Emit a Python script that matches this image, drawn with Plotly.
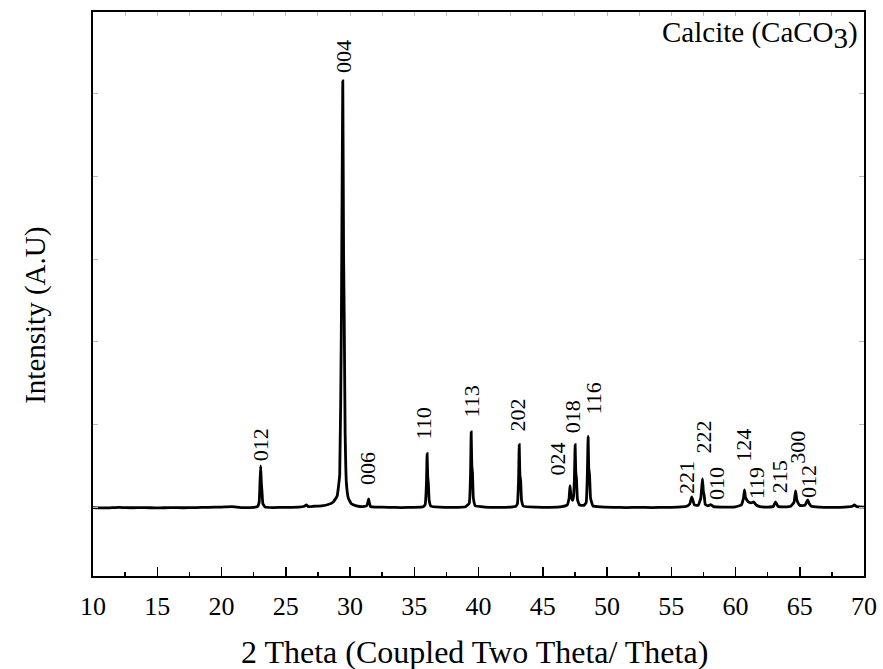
import plotly.graph_objects as go

# ---- data ----
two_theta = [
    10.0, 11.0, 12.0, 13.0, 14.0, 15.0, 16.0, 17.0, 18.0, 19.0, 20.0, 20.8, 21.5, 22.5,
    22.8, 22.93, 23.0, 23.05, 23.1, 23.15, 23.22, 23.4,
    24.0, 25.0, 26.0, 26.45, 26.6, 26.75, 27.2, 27.8, 28.3, 28.7,
    29.0, 29.2, 29.32, 29.44, 29.5, 29.55, 29.62, 29.72, 29.87, 30.1, 30.5,
    31.0, 31.3, 31.4, 31.45, 31.5, 31.6, 32.0, 33.0, 34.0, 35.0, 35.7,
    35.85, 35.95, 36.0, 36.05, 36.1, 36.16, 36.3, 37.0, 38.0, 39.0,
    39.28, 39.38, 39.43, 39.48, 39.53, 39.6, 39.75, 40.5, 41.5, 42.5, 42.9,
    43.03, 43.12, 43.17, 43.22, 43.28, 43.35, 43.5, 44.5, 45.5, 46.5, 46.9,
    47.05, 47.12, 47.18, 47.24, 47.32, 47.4, 47.47, 47.52, 47.57, 47.62, 47.7, 47.85,
    48.2, 48.38, 48.47, 48.53, 48.58, 48.64, 48.72, 48.9,
    49.5, 50.5, 51.5, 52.5, 53.5, 54.5, 55.5, 56.2,
    56.45, 56.6, 56.7, 56.8, 57.1, 57.3, 57.43, 57.5, 57.56, 57.65, 57.85,
    58.08, 58.3, 59.0, 60.0, 60.45, 60.62, 60.7, 60.78, 60.86, 61.0, 61.2, 61.43, 61.6, 61.9,
    62.5, 62.95, 63.12, 63.3, 63.8, 64.3, 64.55, 64.68, 64.76, 64.85, 65.0,
    65.4, 65.62, 65.72, 65.9, 66.5, 67.5, 68.5, 69.1, 69.25, 69.45, 70.0,
]
intensity = [
    0.3, 0.2, 0.35, 0.25, 0.3, 0.2, 0.3, 0.25, 0.3, 0.35, 0.4, 0.5, 0.3, 0.35,
    0.5, 1.5, 6.5, 10.0, 6.0, 4.0, 1.2, 0.4,
    0.3, 0.35, 0.4, 0.6, 0.9, 0.5, 0.6, 0.7, 1.0, 1.6,
    3.0, 8.0, 40.0, 100.0, 60.0, 45.0, 18.0, 6.0, 2.5, 1.2, 0.7,
    0.5, 0.7, 1.6, 2.3, 1.5, 0.5, 0.4, 0.35, 0.3, 0.35, 0.5,
    1.0, 6.0, 12.9, 7.5, 5.8, 2.0, 0.6, 0.4, 0.35, 0.5,
    1.3, 8.0, 18.0, 10.0, 8.5, 2.5, 0.7, 0.4, 0.35, 0.4, 0.6,
    1.2, 7.0, 15.0, 8.0, 6.5, 2.0, 0.6, 0.4, 0.35, 0.5, 0.9,
    2.5, 5.4, 3.5, 2.5, 2.0, 3.0, 8.0, 15.0, 8.5, 7.2, 2.2, 0.9,
    0.8, 1.5, 8.0, 16.9, 9.5, 8.0, 2.5, 0.7,
    0.45, 0.35, 0.3, 0.35, 0.3, 0.35, 0.4, 0.6,
    1.2, 2.8, 1.8, 0.9, 0.8, 2.5, 7.0, 4.0, 3.2, 1.0, 0.7,
    1.0, 0.5, 0.4, 0.45, 0.9, 2.5, 4.4, 2.6, 2.2, 1.6, 1.4, 1.6, 0.9, 0.5,
    0.4, 0.6, 1.6, 0.6, 0.45, 0.6, 1.5, 4.2, 2.3, 1.5, 0.8,
    0.8, 2.1, 1.3, 0.6, 0.4, 0.35, 0.4, 0.6, 0.9, 0.5, 0.4,
]

# peak labels (Miller indices) and label anchor positions
peak_labels = ["012", "004", "006", "110", "113", "202", "024", "018", "116",
               "221", "222", "010", "124", "119", "215", "300", "012"]
label_x = [23.01, 29.44, 31.33, 35.71, 39.38, 43.02, 46.13, 47.30, 48.96,
           56.13, 57.51, 58.47, 60.55, 61.59, 63.40, 64.83, 65.74]
label_y = [14.9, 105.8, 9.3, 20.05, 24.96, 21.9, 11.6, 21.45, 25.7,
           7.4, 16.8, 6.0, 14.9, 6.0, 7.4, 14.4, 6.3]

x_ticks = [10, 15, 20, 25, 30, 35, 40, 45, 50, 55, 60, 65, 70]

FONT = "Liberation Serif"

fig = go.Figure()
fig.add_trace(go.Scatter(
    x=two_theta, y=intensity, mode="lines",
    line=dict(color="black", width=2.8, shape="spline", smoothing=0.3),
    hoverinfo="skip", showlegend=False,
))
# invisible trace for the faint top ticks axis
fig.add_trace(go.Scatter(x=[10, 70], y=[0, 0], xaxis="x2", mode="markers",
                         marker=dict(opacity=0, size=1), showlegend=False, hoverinfo="skip"))

for t, x, y in zip(peak_labels, label_x, label_y):
    fig.add_annotation(x=x, y=y, text=t, textangle=-90, showarrow=False,
                       xanchor="center", yanchor="middle",
                       font=dict(family=FONT, size=22, color="black"))

fig.add_annotation(xref="paper", yref="paper", x=0.995, y=0.997,
                   xanchor="right", yanchor="top", showarrow=False,
                   text="Calcite (CaCO<sub><span style='font-size:29px'>3</span></sub>)",
                   font=dict(family=FONT, size=29, color="black"))

# axis titles as annotations
fig.add_annotation(xref="paper", yref="paper", x=0.495, y=-0.1348,
                   xanchor="center", yanchor="middle", showarrow=False,
                   text="2 Theta (Coupled Two Theta/ Theta)",
                   font=dict(family=FONT, size=32, color="black"))
fig.add_annotation(xref="paper", yref="paper", x=-0.074, y=0.463,
                   xanchor="center", yanchor="middle", showarrow=False, textangle=-90,
                   text="Intensity (A.U)",
                   font=dict(family=FONT, size=29, color="black"))

fig.update_layout(
    width=883, height=669,
    margin=dict(l=93, r=19, t=12, b=93, autoexpand=False),
    paper_bgcolor="white", plot_bgcolor="white",
    xaxis=dict(
        range=[10, 70], tickvals=x_ticks, ticktext=[str(v) for v in x_ticks],
        ticks="inside", ticklen=9, tickwidth=1.5, tickcolor="black",
        minor=dict(ticks="inside", dtick=2.5, tick0=10, ticklen=4, tickwidth=1.5, tickcolor="black"),
        showline=True, linecolor="black", linewidth=2, mirror=True,
        showgrid=False, zeroline=False, automargin=False,
        tickfont=dict(family=FONT, size=26, color="black"),
        ticklabelstandoff=6,
    ),
    xaxis2=dict(
        range=[10, 70], overlaying="x", side="top", dtick=2.5, tick0=10,
        ticks="inside", ticklen=4, tickwidth=1, tickcolor="#bbbbbb",
        showticklabels=False, showline=False, showgrid=False, zeroline=False,
        automargin=False,
    ),
    yaxis=dict(
        range=[-15.7, 116.1], tick0=0.3, dtick=19.35,
        ticks="inside", ticklen=5, tickwidth=1, tickcolor="#bbbbbb",
        showticklabels=False, showline=True, linecolor="black", linewidth=2,
        mirror="ticks", showgrid=False, zeroline=False, automargin=False,
    ),
)

fig.write_html(
    "out.html",
    config={"displayModeBar": False, "staticPlot": True},
    post_script="document.body.style.margin='0';document.body.style.padding='0';"
                "document.body.style.overflow='hidden';",
)
